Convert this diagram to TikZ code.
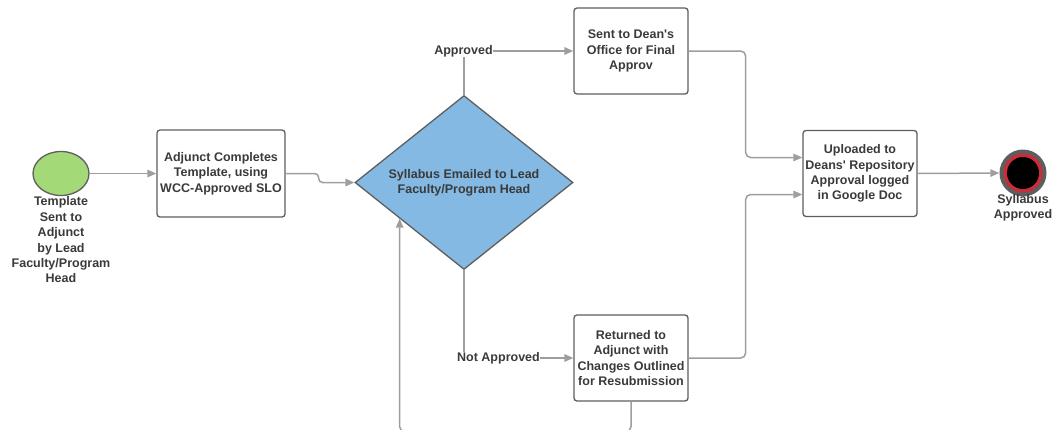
\documentclass[tikz,border=0pt]{standalone}
\usepackage{fontspec}
\setmainfont{Liberation Sans}
\usepackage{tikz}
\usetikzlibrary{arrows.meta, positioning, shapes.geometric, calc}
\definecolor{linegray}{RGB}{158,158,158}
\definecolor{boxgray}{RGB}{94,94,94}
\definecolor{txtgray}{RGB}{58,58,58}
\definecolor{startgreen}{RGB}{163,217,119}
\definecolor{diablue}{RGB}{131,185,227}
\definecolor{endred}{RGB}{201,45,57}
\tikzset{
  txt/.style={font=\fontsize{12.5}{15.4}\selectfont\bfseries, text=txtgray, align=center, inner sep=0pt},
  stepbox/.style={txt, draw=boxgray, line width=1.3pt, rounded corners=3pt, minimum width=114pt, minimum height=86pt},
  flow/.style={draw=linegray, line width=1.5pt, rounded corners=5pt},
}

\begin{document}
\begin{tikzpicture}[x=1pt, y=-1pt, >={Triangle[length=9pt,width=7.5pt]}]
            \useasboundingbox (0,0) rectangle (1058,429);
            % start
            \node[ellipse, draw=boxgray, fill=startgreen, line width=1.3pt, minimum width=56pt, minimum height=44pt] (start) at (61,173.5) {};
            \node[txt] (startlbl) at (61,240) {Template\\Sent to\\Adjunct\\by Lead\\Faculty/Program\\Head};
            % steps
            \node[stepbox, minimum width=128pt, minimum height=87pt] (adj) at (221,173.5) {Adjunct Completes\\Template, using\\WCC-Approved SLO};
            \node[txt, diamond, draw=boxgray, fill=diablue, line width=1.3pt, aspect=1.25, minimum width=218pt, minimum height=174pt] (dia) at (464,182.5) {Syllabus Emailed to Lead\\Faculty/Program Head};
            \node[txt] (appr) at (463.5,51) {Approved};
            \node[txt] (notappr) at (498.5,358) {Not Approved};
            \node[stepbox] (dean) at (631,51) {Sent to Dean\textquotesingle s\\Office for Final\\Approv};
            \node[stepbox] (ret) at (631,358) {Returned to\\Adjunct with\\Changes Outlined\\for Resubmission};
            \node[stepbox] (upl) at (860,173.5) {Uploaded to\\Deans\textquotesingle{} Repository\\Approval logged\\in Google Doc};
            % end
            \node[circle, fill=boxgray, minimum size=47pt, inner sep=0pt] (endout) at (1023,173) {};
            \node[circle, fill=endred, minimum size=39pt, inner sep=0pt] (endring) at (1023,173) {};
            \node[circle, fill=black, minimum size=32pt, inner sep=0pt] (endcore) at (1023,173) {};
            \node[txt] (endlbl) at (1023,208) {Syllabus\\Approved};

            \coordinate (back) at ($(dia.west)!0.413!(dia.south)$);

            \draw[flow, ->] (start) -- (adj);
            \draw[flow, ->, rounded corners=4pt] (adj.east) -- ++(33,0) |- (dia.west);
            \draw[flow] (dia.north) -- (dia.north |- appr.south) ++(0,-4);
            \draw[flow, ->] (appr.east) -- (dean.west);
            \draw[flow] (dia.south) -- (dia.south |- notappr.north);
            \draw[flow, ->] (notappr.east) -- (ret.west);
            \draw[flow, ->] (dean.east) -- ++(57,0) |- ($(upl.west)+(0,-16)$);
            \draw[flow, ->] (ret.east) -- ++(57,0) |- ($(upl.west)+(0,21)$);
            \draw[flow, ->] (upl.east) -- (endout.west);
            \draw[flow, ->] (ret.south) -- ++(0,30) -| (back);
\end{tikzpicture}
\end{document}
